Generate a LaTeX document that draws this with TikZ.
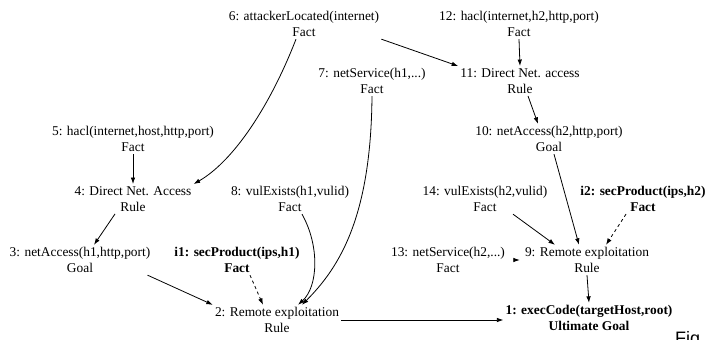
\documentclass[tikz,border=0pt]{standalone}
\usepackage{fontspec}
\setmainfont{Liberation Serif}
\newfontfamily\figfont{Liberation Sans}
\usetikzlibrary{arrows.meta}
\tikzset{
  lbl/.style={align=center, inner sep=2pt, font=\fontsize{13.4}{16.5}\selectfont},
  blbl/.style={lbl, font=\fontsize{13.4}{16.5}\selectfont\bfseries},
  arr/.style={draw, line width=0.8pt, -{Latex[length=6.5pt,width=4.5pt]}},
  darr/.style={arr, dashed, dash pattern=on 3pt off 3pt}
}
\begin{document}
\begin{tikzpicture}[x=1pt,y=-1pt]
\useasboundingbox (0,0) rectangle (707,340);
\clip (0,0) rectangle (707,340);
% nodes
\node[lbl] (n6) at (304,24) {6: attackerLocated(internet)\\Fact};
\node[lbl] (n12) at (519,24) {12: hacl(internet,h2,http,port)\\Fact};
\node[lbl] (n7) at (372,81) {7: netService(h1,...)\\Fact};
\node[lbl] (n11) at (520,81) {11: Direct Net. access\\Rule};
\node[lbl] (n5) at (133,139) {5: hacl(internet,host,http,port)\\Fact};
\node[lbl] (n10) at (549,139) {10: netAccess(h2,http,port)\\Goal};
\node[lbl] (n4) at (133,199) {4: Direct Net. Access\\Rule};
\node[lbl] (n8) at (290,199) {8: vulExists(h1,vulid)\\Fact};
\node[lbl] (n14) at (485,199) {14: vulExists(h2,vulid)\\Fact};
\node[blbl] (ni2) at (643,199) {i2: secProduct(ips,h2)\\Fact};
\node[lbl] (n3) at (80,260) {3: netAccess(h1,http,port)\\Goal};
\node[blbl] (ni1) at (237,260) {i1: secProduct(ips,h1)\\Fact};
\node[lbl] (n13) at (448,260) {13: netService(h2,...)\\Fact};
\node[lbl] (n9) at (587,260) {9: Remote exploitation\\Rule};
\node[lbl] (n2) at (277,320) {2: Remote exploitation\\Rule};
\node[blbl] (n1) at (589,318) {1: execCode(targetHost,root)\\Ultimate Goal};
\node[anchor=north west, inner sep=0pt, font=\figfont\fontsize{18}{20}\selectfont] (fig) at (675,331) {Fig};
% connectors
\draw[arr] ([xshift=-8pt]n6.south) .. controls +(-26,67) and +(40,-23) .. (n4.north east);
\draw[arr] (n6.south east) -- (n11.north west);
\draw[arr] (n12.south) -- (n11.north);
\draw[arr] ([xshift=8pt]n11.south) -- ([xshift=-11pt]n10.north);
\draw[arr] (n5.south) -- (n4.north);
\draw[arr] ([xshift=-18pt]n4.south) -- ([xshift=14pt]n3.north);
\draw[arr] ([xshift=5pt]n10.south) -- ([xshift=-8pt]n9.north);
\draw[arr] ([xshift=28pt]n14.south) -- ([xshift=-32pt]n9.north);
\draw[darr] ([xshift=-17pt]ni2.south) -- ([xshift=19pt]n9.north);
\draw[arr, shorten <=8pt, shorten >=3pt] (n13.east) -- (n9.west);
\draw[arr] (n9.south) -- (n1.north);
\draw[arr] (n7.south) .. controls +(-1,120) and +(38,-38) .. ([xshift=25pt]n2.north);
\draw[arr] ([xshift=12pt]n8.south) .. controls +(18,32) and +(20,-18) .. ([xshift=21pt]n2.north);
\draw[darr] ([xshift=13pt]ni1.south) -- ([xshift=-14pt]n2.north);
\draw[arr] ([xshift=-5pt]n3.south east) -- (n2.north west);
\draw[arr] (n2.east) -- (n2.east -| n1.west);
\end{tikzpicture}
\end{document}
